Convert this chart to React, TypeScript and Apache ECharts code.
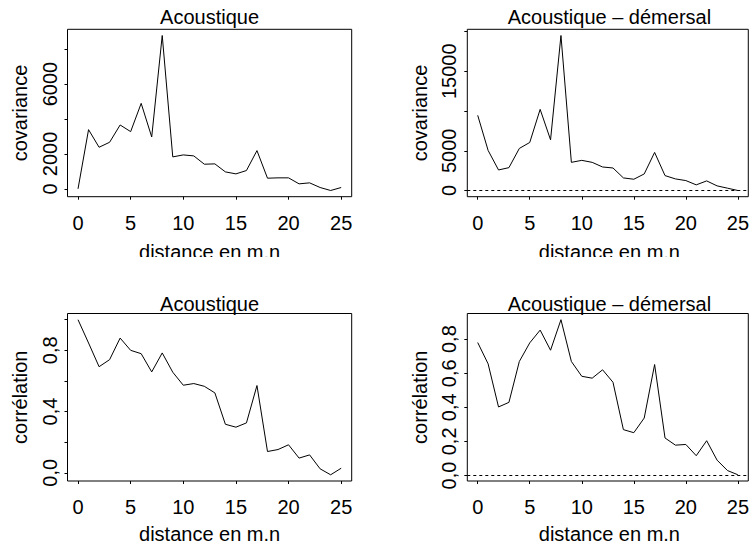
import React, { useEffect, useRef } from "react";
import * as echarts from "echarts";

const distances = [0, 1, 2, 3, 4, 5, 6, 7, 8, 9, 10, 11, 12, 13, 14, 15, 16, 17, 18, 19, 20, 21, 22, 23, 24, 25];

const covAcoustique = [0, 3390, 2381, 2667, 3657, 3276, 4895, 2971, 8781, 1829, 1943, 1886, 1410, 1429, 971, 857, 1048, 2190, 610, 629, 629, 286, 343, 76, -95, 76];
const covDemersal = [9458, 5042, 2583, 2875, 5292, 6042, 10208, 6375, 19500, 3542, 3792, 3542, 2958, 2833, 1583, 1417, 2083, 4792, 1875, 1458, 1250, 708, 1208, 583, 292, 0];
const corAcoustique = [1.0, 0.848, 0.693, 0.739, 0.88, 0.8, 0.778, 0.659, 0.783, 0.657, 0.572, 0.583, 0.565, 0.522, 0.317, 0.298, 0.326, 0.57, 0.139, 0.152, 0.183, 0.096, 0.117, 0.026, -0.013, 0.03];
const corDemersal = [0.78, 0.655, 0.402, 0.429, 0.669, 0.778, 0.853, 0.735, 0.914, 0.669, 0.582, 0.571, 0.62, 0.547, 0.269, 0.251, 0.337, 0.651, 0.22, 0.178, 0.182, 0.116, 0.204, 0.09, 0.029, 0.004];

const xTicks = [0, 5, 10, 15, 20, 25];
const covAcTicks = [0, 2000, 4000, 6000, 8000];
const covAcLabels = [0, 2000, 6000];
const covDemTicks = [0, 5000, 10000, 15000, 20000];
const covDemLabels = [0, 5000, 15000];
const corAcTicks = [0, 0.2, 0.4, 0.6, 0.8, 1.0];
const corAcLabels = [0, 0.4, 0.8];
const corDemTicks = [0, 0.2, 0.4, 0.6, 0.8];
const corDemLabels = [0, 0.2, 0.4, 0.6, 0.8];

const titles = ["Acoustique", "Acoustique – démersal", "Acoustique", "Acoustique – démersal"];
const yNames = ["covariance", "covariance", "corrélation", "corrélation"];
const xName = "distance en m.n";

const FONT = "'Liberation Sans', Arial, Helvetica, sans-serif";

const panels = [
  { left: 67.5, top: 29.3, width: 284.2, height: 167.4, values: covAcoustique, ticks: covAcTicks, labels: covAcLabels, dec: false, zero: false, titleY: 17, xlabY: 252.4, clip: true },
  { left: 467.3, top: 29.3, width: 284.2, height: 167.4, values: covDemersal, ticks: covDemTicks, labels: covDemLabels, dec: false, zero: true, titleY: 17, xlabY: 252.4, clip: true },
  { left: 67.5, top: 313.5, width: 284.2, height: 167.5, values: corAcoustique, ticks: corAcTicks, labels: corAcLabels, dec: true, zero: false, titleY: 303.5, xlabY: 534, clip: false },
  { left: 467.3, top: 313.5, width: 284.2, height: 167.5, values: corDemersal, ticks: corDemTicks, labels: corDemLabels, dec: true, zero: true, titleY: 303.5, xlabY: 534, clip: false },
];

function extent(vals: number[]) {
  const mn = Math.min(...vals);
  const mx = Math.max(...vals);
  const e = (mx - mn) * 0.04;
  return [mn - e, mx + e];
}

export default function App() {
  const ref = useRef<HTMLDivElement>(null);
  useEffect(() => {
    document.body.style.margin = "0";
    const chart = echarts.init(ref.current as HTMLDivElement, null, { renderer: "svg" });
    const grid: any[] = [];
    const xAxis: any[] = [];
    const yAxis: any[] = [];
    const series: any[] = [];
    const graphic: any[] = [];
    panels.forEach((p, i) => {
      grid.push({ left: p.left, top: p.top, width: p.width, height: p.height, show: true, borderColor: "#000", borderWidth: 1, backgroundColor: "transparent", containLabel: false });
      xAxis.push({
        type: "value", gridIndex: i, min: -1, max: 26,
        axisLine: { show: false, onZero: false },
        splitLine: { show: false },
        axisTick: { show: true, length: 3, inside: false, lineStyle: { color: "#000" }, customValues: xTicks },
        axisLabel: { customValues: xTicks, color: "#000", fontSize: 20, fontFamily: FONT, margin: 16 },
      });
      const [mn, mx] = extent(p.values);
      yAxis.push({
        type: "value", gridIndex: i, min: mn, max: mx,
        axisLine: { show: false, onZero: false },
        splitLine: { show: false },
        axisTick: { show: true, length: 3, inside: false, lineStyle: { color: "#000" }, customValues: p.ticks },
        axisLabel: {
          customValues: p.labels, rotate: 90, color: "#000", fontSize: 20, fontFamily: FONT, margin: 8,
          formatter: (v: number) => (p.dec ? v.toFixed(1).replace(".", ",") : String(Math.round(v))),
        },
      });
      const s: any = {
        type: "line", xAxisIndex: i, yAxisIndex: i,
        data: distances.map((d, k) => [d, p.values[k]]),
        showSymbol: false, symbol: "none",
        lineStyle: { color: "#000", width: 1 },
        silent: true,
      };
      if (p.zero) {
        s.markLine = {
          symbol: ["none", "none"], silent: true, label: { show: false },
          lineStyle: { color: "#000", width: 1, type: [3, 3] },
          data: [{ yAxis: 0 }],
        };
      }
      series.push(s);
      const cx = p.left + p.width / 2;
      const cy = p.top + p.height / 2;
      graphic.push({ type: "text", x: cx, y: p.titleY, z: 100, style: { text: titles[i], align: "center", verticalAlign: "middle", fill: "#000", font: `20px ${FONT}` } });
      graphic.push({ type: "text", x: cx, y: p.xlabY, z: 100, style: { text: xName, align: "center", verticalAlign: "middle", fill: "#000", font: `20px ${FONT}` } });
      graphic.push({ type: "text", x: p.left - 47.5, y: cy, rotation: Math.PI / 2, z: 100, style: { text: yNames[i], align: "center", verticalAlign: "middle", fill: "#000", font: `20px ${FONT}` } });
      if (p.clip) {
        graphic.push({ type: "rect", z: 200, shape: { x: cx - 100, y: 257, width: 200, height: 15 }, style: { fill: "#fff" } });
      }
    });
    chart.setOption({
      animation: false,
      backgroundColor: "#fff",
      textStyle: { fontFamily: FONT },
      grid, xAxis, yAxis, series, graphic,
    });
    return () => chart.dispose();
  }, []);
  return <div ref={ref} style={{ width: 752, height: 545, position: "absolute", left: 0, top: 0 }} />;
}
